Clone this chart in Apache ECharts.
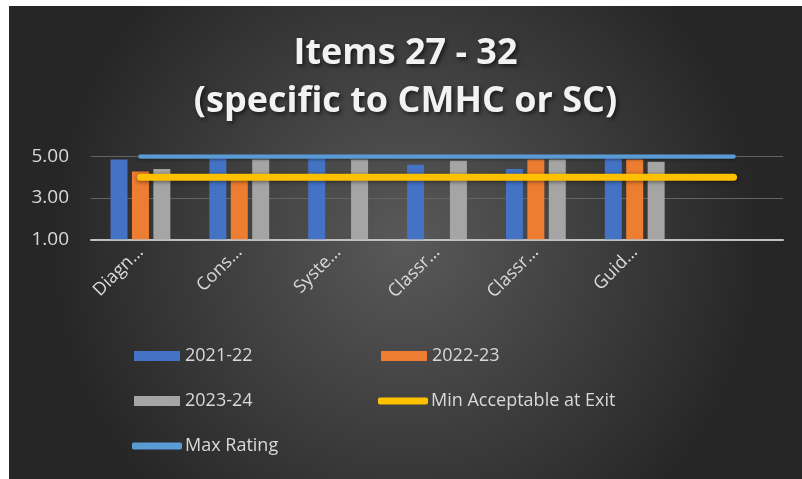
<!DOCTYPE html>
<html>
<head>
<meta charset="utf-8">
<script src="https://cdn.jsdelivr.net/npm/echarts@6/dist/echarts.min.js"></script>
<style>
  html, body { margin: 0; padding: 0; background: #ffffff; }
  #chart { position: absolute; left: 9px; top: 6px; width: 793px; height: 473px; }
</style>
</head>
<body>
<div id="chart"></div>
<script>
// 类别（第 7 个为空，只用于让参考线延伸）
const categories = ['Diagn…', 'Cons…', 'Syste…', 'Classr…', 'Classr…', 'Guid…', ''];

// 各年度评分
const ratings2122 = [4.85, 4.9, 4.9, 4.6, 4.4, 4.9, null];
const ratings2223 = [4.27, 4.0, null, null, 4.85, 4.85, null];
const ratings2324 = [4.4, 4.85, 4.85, 4.8, 4.85, 4.75, null];

// 参考线
const minAcceptable = [4, 4, 4, 4, 4, 4, 4];
const maxRating = [5, 5, 5, 5, 5, 5, 5];

const COLORS = {
  blue: '#4472C4',
  orange: '#ED7D31',
  gray: '#A5A5A5',
  yellow: '#FFC000',
  lightBlue: '#5B9BD5',
  text: '#D9D9D9'
};

const FONT = '"Open Sans", "Liberation Sans", sans-serif';

/**
 * 单项图例，位置按参考图逐个摆放
 */
function legendItem(name, left, top, isLine) {
  return {
    data: [name],
    left: left,
    top: top,
    padding: 0,
    icon: isLine ? 'roundRect' : 'rect',
    itemWidth: isLine ? 50 : 46,
    itemHeight: isLine ? 7 : 10,
    itemGap: 0,
    textStyle: {
      color: COLORS.text,
      fontFamily: FONT,
      fontSize: 18,
      lineHeight: 20,
      padding: [0, 0, 0, isLine ? -2 : 0]
    },
    selectedMode: false
  };
}

const chart = echarts.init(document.getElementById('chart'));

const barCommon = {
  type: 'bar',
  barWidth: 17,
  barGap: '26%',
  z: 2
};

const option = {
  animation: false,
  backgroundColor: {
    type: 'radial',
    x: 0.5, y: 0.5, r: 0.75,
    colorStops: [
      { offset: 0, color: '#595959' },
      { offset: 1, color: '#262626' }
    ]
  },
  title: {
    text: 'Items 27 - 32\n(specific to CMHC or SC)',
    left: 'center',
    top: 19,
    textStyle: {
      color: '#F2F2F2',
      fontFamily: FONT,
      fontWeight: 'bold',
      fontSize: 36,
      lineHeight: 48,
      textShadowColor: 'rgba(0,0,0,0.6)',
      textShadowBlur: 4,
      textShadowOffsetX: 2,
      textShadowOffsetY: 2
    }
  },
  legend: [
    legendItem('2021-22', 125, 340, false),
    legendItem('2022-23', 372, 340, false),
    legendItem('2023-24', 125, 385, false),
    legendItem('Min Acceptable at Exit', 369, 385, true),
    legendItem('Max Rating', 123, 430, true)
  ],
  grid: { left: 82, right: 19, top: 150.5, bottom: 239.7 },
  xAxis: {
    type: 'category',
    data: categories,
    axisTick: { show: false },
    axisLine: { lineStyle: { color: '#BFBFBF', width: 2 } },
    axisLabel: {
      rotate: 45,
      interval: 0,
      margin: 10,
      color: COLORS.text,
      fontFamily: FONT,
      fontSize: 18
    }
  },
  yAxis: {
    type: 'value',
    min: 1,
    max: 5,
    interval: 2,
    axisLine: { show: false },
    axisTick: { show: false },
    splitLine: { lineStyle: { color: '#646464', width: 1 } },
    axisLabel: {
      formatter: v => v.toFixed(2),
      margin: 22,
      color: COLORS.text,
      fontFamily: FONT,
      fontSize: 19
    }
  },
  series: [
    Object.assign({ name: '2021-22', data: ratings2122, itemStyle: { color: COLORS.blue } }, barCommon),
    Object.assign({ name: '2022-23', data: ratings2223, itemStyle: { color: COLORS.orange } }, barCommon),
    Object.assign({ name: '2023-24', data: ratings2324, itemStyle: { color: COLORS.gray } }, barCommon),
    {
      name: 'Min Acceptable at Exit',
      type: 'line',
      data: minAcceptable,
      symbol: 'none',
      z: 4,
      itemStyle: { color: COLORS.yellow },
      lineStyle: {
        color: COLORS.yellow,
        width: 7,
        cap: 'round',
        shadowColor: 'rgba(0,0,0,0.5)',
        shadowBlur: 4,
        shadowOffsetY: 1
      }
    },
    {
      name: 'Max Rating',
      type: 'line',
      data: maxRating,
      symbol: 'none',
      z: 4,
      itemStyle: { color: COLORS.lightBlue },
      lineStyle: {
        color: COLORS.lightBlue,
        width: 4.5,
        cap: 'round',
        shadowColor: 'rgba(0,0,0,0.4)',
        shadowBlur: 3,
        shadowOffsetY: 1
      }
    }
  ]
};

chart.setOption(option);
</script>
</body>
</html>
